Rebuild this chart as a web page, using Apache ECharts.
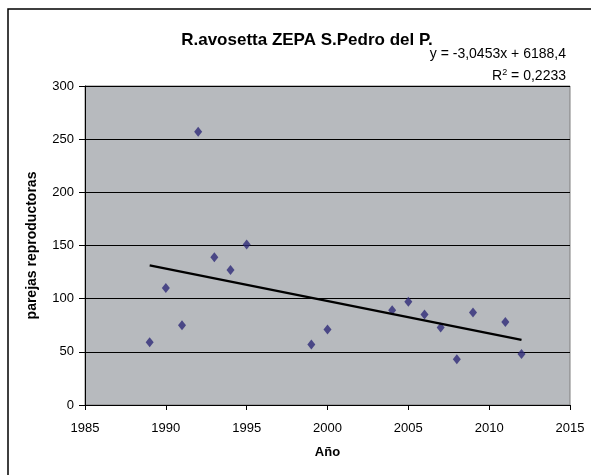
<!DOCTYPE html>
<html>
<head>
<meta charset="utf-8">
<script src="https://cdn.jsdelivr.net/npm/echarts@6/dist/echarts.min.js"></script>
<style>
  html, body { margin: 0; padding: 0; background: #fff; }
  #chart { width: 591px; height: 475px; }
</style>
</head>
<body>
<div id="chart"></div>
<script>
// Breeding pairs of Recurvirostra avosetta per survey year
const years = [1989, 1990, 1991, 1992, 1993, 1994, 1995, 1999, 2000, 2004, 2005, 2006, 2007, 2008, 2009, 2011, 2012];
const pairs = [59, 110, 75, 257, 139, 127, 151, 57, 71, 89, 97, 85, 73, 43, 87, 78, 48];

// Linear trend coefficients as printed on the chart
const trendSlope = -3.0453;
const trendIntercept = 6188.4;
const trendLabel = 'y = -3,0453x + 6188,4';
const r2Label = '0,2233';

const xTicks = { min: 1985, max: 2015, step: 5 };
const yTicks = { min: 0, max: 300, step: 50 };

const points = years.map((y, i) => [y, pairs[i]]);
const xFirst = Math.min(...years);
const xLast = Math.max(...years);
const trend = [xFirst, xLast].map(x => [x, trendSlope * x + trendIntercept]);

const font = 'Liberation Sans, Arial, Helvetica, sans-serif';
const chart = echarts.init(document.getElementById('chart'), null, { renderer: 'canvas' });

chart.setOption({
  animation: false,
  backgroundColor: '#ffffff',
  title: {
    text: 'R.avosetta ZEPA S.Pedro del P.',
    left: 302,
    top: 27,
    textAlign: 'center',
    textStyle: { fontFamily: font, fontSize: 17, fontWeight: 'bold', color: '#000' }
  },
  grid: {
    left: 85, right: 21, top: 86, bottom: 70,
    show: true,
    backgroundColor: '#b7babe',
    borderColor: '#7f7f7f',
    borderWidth: 1
  },
  xAxis: {
    type: 'value',
    min: xTicks.min, max: xTicks.max, interval: xTicks.step,
    name: 'Año',
    nameLocation: 'middle',
    nameGap: 41,
    nameTextStyle: { fontFamily: font, fontSize: 13, fontWeight: 'bold', color: '#000' },
    axisLine: { show: true, onZero: false, lineStyle: { color: '#000', width: 1 } },
    axisTick: { show: true, inside: false, length: 5, lineStyle: { color: '#000' } },
    axisLabel: { margin: 17, fontFamily: font, fontSize: 13, color: '#000', formatter: v => String(v) },
    splitLine: { show: false }
  },
  yAxis: {
    type: 'value',
    min: yTicks.min, max: yTicks.max, interval: yTicks.step,
    name: 'parejas reproductoras',
    nameLocation: 'middle',
    nameGap: 46,
    nameRotate: 90,
    nameTextStyle: { fontFamily: font, fontSize: 14, fontWeight: 'bold', color: '#000' },
    axisLine: { show: true, onZero: false, lineStyle: { color: '#000', width: 1 } },
    axisTick: { show: true, inside: false, length: 6, lineStyle: { color: '#000' } },
    axisLabel: { margin: 11, fontFamily: font, fontSize: 13, color: '#000' },
    splitLine: { show: true, lineStyle: { color: '#000', width: 1 } }
  },
  graphic: [
    {
      type: 'rect',
      shape: { x: 8, y: 9, width: 700, height: 600 },
      style: { fill: 'none', stroke: '#000', lineWidth: 1.5 },
      silent: true
    },
    {
      type: 'text',
      right: 25, top: 47,
      style: {
        text: trendLabel,
        font: '14px ' + font,
        fill: '#000',
        textAlign: 'right'
      }
    },
    {
      type: 'text',
      right: 25, top: 68,
      style: {
        text: 'R{sup|2} = ' + r2Label,
        font: '14px ' + font,
        fill: '#000',
        rich: { sup: { fontSize: 9, verticalAlign: 'top', padding: [0, 0, 7, 0], fontFamily: font } }
      }
    }
  ],
  series: [
    {
      type: 'scatter',
      data: points,
      symbol: 'diamond',
      symbolSize: [8, 10],
      itemStyle: { color: '#2e2a78' },
      z: 3
    },
    {
      type: 'line',
      data: trend,
      symbol: 'none',
      lineStyle: { color: '#000', width: 2.2 },
      z: 4
    }
  ]
});
</script>
</body>
</html>
